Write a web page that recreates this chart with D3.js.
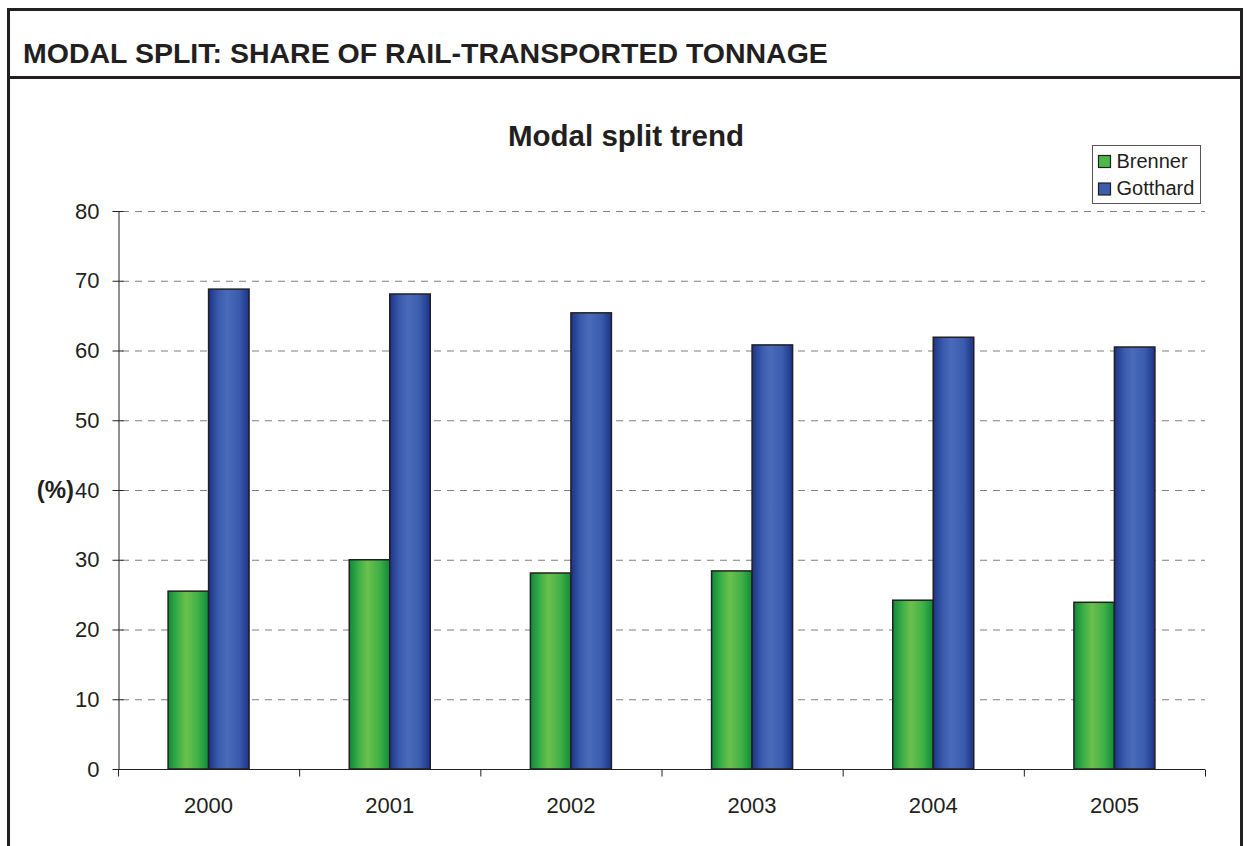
<!DOCTYPE html>
<html lang="en">
  <head>
    <meta charset="utf-8">
    <title>Modal split trend</title>
    <script src="https://d3js.org/d3.v7.min.js"></script>
    <style>
      html, body { margin: 0; padding: 0; background: #fff; }
      svg { display: block; font-family: "Liberation Sans", Arial, sans-serif; }
    </style>
  </head>
  <body>
    <svg id="chart" width="1247" height="846"></svg>
    <script>
      // data
      const years = ['2000', '2001', '2002', '2003', '2004', '2005'];
      const seriesNames = ['Brenner', 'Gotthard'];
      const brenner = [25.5, 30.0, 28.1, 28.4, 24.2, 23.9];
      const gotthard = [68.8, 68.1, 65.4, 60.8, 61.9, 60.5];
      const yTicks = [0, 10, 20, 30, 40, 50, 60, 70, 80];

      const width = 1247, height = 846;
      const svg = d3.select('#chart');

      // gradients for the bars
      const defs = svg.append('defs');
      function grad(id, edge, mid, light) {
        const g = defs.append('linearGradient').attr('id', id)
          .attr('x1', '0%').attr('x2', '100%').attr('y1', '0%').attr('y2', '0%');
        g.append('stop').attr('offset', '0%').attr('stop-color', edge);
        g.append('stop').attr('offset', '25%').attr('stop-color', mid);
        g.append('stop').attr('offset', '45%').attr('stop-color', light);
        g.append('stop').attr('offset', '75%').attr('stop-color', mid);
        g.append('stop').attr('offset', '100%').attr('stop-color', edge);
      }
      grad('g-brenner', '#0f8a3a', '#3eb048', '#6cc04a');
      grad('g-gotthard', '#1c3388', '#3b5cad', '#4a6bb8');
      const fills = { Brenner: 'url(#g-brenner)', Gotthard: 'url(#g-gotthard)' };
      const swatch = { Brenner: '#4cb847', Gotthard: '#3d5eae' };

      // outer frame and header
      svg.append('path')
        .attr('d', 'M8.5,' + (height + 5) + ' V9.5 H1241.5 V' + (height + 5))
        .attr('fill', 'none').attr('stroke', '#231f20').attr('stroke-width', 3);
      svg.append('line')
        .attr('x1', 8).attr('x2', 1242).attr('y1', 77.5).attr('y2', 77.5)
        .attr('stroke', '#231f20').attr('stroke-width', 3);
      svg.append('text')
        .attr('x', 23).attr('y', 63)
        .attr('font-size', 28.5).attr('font-weight', 'bold').attr('fill', '#231f20')
        .text('MODAL SPLIT: SHARE OF RAIL-TRANSPORTED TONNAGE');

      svg.append('text')
        .attr('x', 626).attr('y', 146)
        .attr('text-anchor', 'middle')
        .attr('font-size', 29.5).attr('font-weight', 'bold').attr('fill', '#231f20')
        .text('Modal split trend');

      // scales
      const plot = { left: 118, right: 1205, top: 211, bottom: 769 };
      const x = d3.scaleBand().domain(years).range([plot.left, plot.right]).paddingInner(0).paddingOuter(0);
      const y = d3.scaleLinear().domain([0, 80]).range([plot.bottom, plot.top]);
      const barW = 40.5;
      const xs = d3.scaleBand().domain(seriesNames)
        .range([x.bandwidth() / 2 - barW, x.bandwidth() / 2 + barW]);

      // gridlines
      svg.append('g').selectAll('line')
        .data(yTicks.filter(d => d > 0))
        .join('line')
        .attr('x1', plot.left + 4).attr('x2', plot.right)
        .attr('y1', d => y(d) + 0.5).attr('y2', d => y(d) + 0.5)
        .attr('stroke', '#808080').attr('stroke-width', 1.2)
        .attr('stroke-dasharray', '7,6');

      // bars
      const rows = years.map((yr, i) => ({ year: yr, Brenner: brenner[i], Gotthard: gotthard[i] }));
      const grp = svg.append('g').selectAll('g')
        .data(rows)
        .join('g')
        .attr('transform', d => 'translate(' + x(d.year) + ',0)');
      grp.selectAll('rect')
        .data(d => seriesNames.map(k => ({ key: k, value: d[k] })))
        .join('rect')
        .attr('x', d => xs(d.key))
        .attr('y', d => y(d.value))
        .attr('width', xs.bandwidth())
        .attr('height', d => y(0) - y(d.value))
        .attr('fill', d => fills[d.key])
        .attr('stroke', '#231f20').attr('stroke-width', 1.5);

      // y axis
      const yAxis = d3.axisLeft(y).tickValues(yTicks).tickSize(6).tickPadding(13).tickSizeOuter(0);
      const yg = svg.append('g').attr('transform', 'translate(' + (plot.left + 0.5) + ',0)').call(yAxis);
      yg.select('.domain').attr('stroke', '#231f20');
      yg.selectAll('.tick line').attr('stroke', '#231f20').attr('x2', 5).attr('x1', -6);
      yg.selectAll('.tick text')
        .attr('font-size', 22).attr('font-family', '"Liberation Sans", Arial, sans-serif')
        .attr('fill', '#231f20');

      svg.append('text')
        .attr('x', 74).attr('y', y(40) + 8)
        .attr('text-anchor', 'end')
        .attr('font-size', 24).attr('font-weight', 'bold').attr('fill', '#231f20')
        .text('(%)');

      // x axis: ticks at category boundaries
      const xg = svg.append('g').attr('transform', 'translate(0,' + (plot.bottom + 0.5) + ')');
      xg.append('line')
        .attr('x1', plot.left).attr('x2', plot.right)
        .attr('stroke', '#231f20');
      const bounds = years.map(d => x(d)).concat([plot.right]);
      xg.selectAll('line.tk')
        .data(bounds)
        .join('line').attr('class', 'tk')
        .attr('x1', d => d + 0.5).attr('x2', d => d + 0.5)
        .attr('y1', 0).attr('y2', 7)
        .attr('stroke', '#231f20');
      xg.selectAll('text')
        .data(years)
        .join('text')
        .attr('x', d => x(d) + x.bandwidth() / 2)
        .attr('y', 43)
        .attr('text-anchor', 'middle')
        .attr('font-size', 22).attr('fill', '#231f20')
        .text(d => d);

      // legend
      const lg = svg.append('g').attr('transform', 'translate(1092,145)');
      lg.append('rect')
        .attr('x', 0.5).attr('y', 0.5).attr('width', 108).attr('height', 58)
        .attr('fill', '#fff').attr('stroke', '#555').attr('stroke-width', 1);
      const li = lg.selectAll('g.item')
        .data(seriesNames)
        .join('g').attr('class', 'item')
        .attr('transform', (d, i) => 'translate(6.5,' + (10.5 + i * 27.5) + ')');
      li.append('rect')
        .attr('width', 12).attr('height', 12)
        .attr('fill', d => swatch[d])
        .attr('stroke', '#231f20').attr('stroke-width', 1.2);
      li.append('text')
        .attr('x', 18).attr('y', 12)
        .attr('font-size', 20).attr('fill', '#231f20')
        .text(d => d);
    </script>
  </body>
</html>
